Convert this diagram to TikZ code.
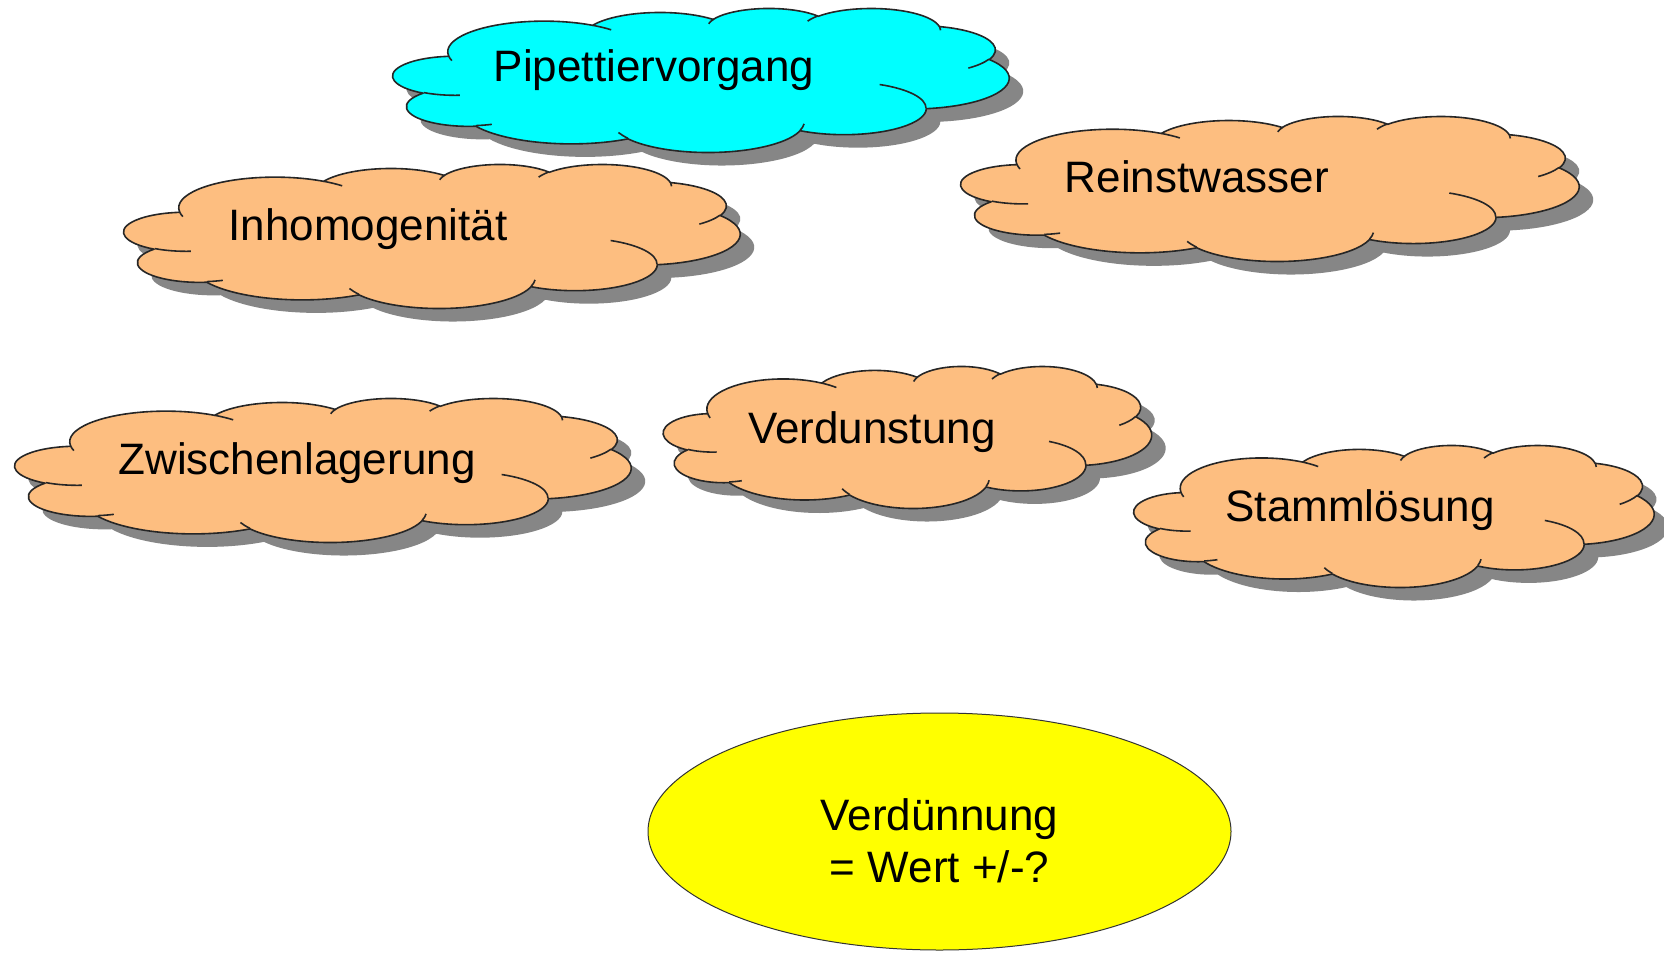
\documentclass[tikz,border=0pt]{standalone}
\usepackage{fontspec}
\setmainfont{Liberation Sans}
\usetikzlibrary{shapes.geometric}

\definecolor{cloudcyan}{RGB}{0,255,255}
\definecolor{cloudpeach}{RGB}{253,190,128}
\definecolor{shadowgrey}{RGB}{134,134,134}
\definecolor{resultyellow}{RGB}{255,255,0}

% ray angle on an ellipse -> parametric angle (k = x radius / y radius)
\pgfmathdeclarefunction{vpar}{2}{%
  \pgfmathparse{#1+atan((#2-1)*sin(#1)*cos(#1)/(cos(#1)*cos(#1)+#2*sin(#1)*sin(#1)))}%
}
% elliptical arc: x radius, y radius, start ray angle, sweep
\newcommand\earc[4]{arc[x radius=#1, y radius=#2,
  start angle={vpar(#3,#1/#2)}, end angle={vpar(#3+#4,#1/#2)}]}

% cloud outline in a 432 x 432 box (y pointing down)
\newcommand\cloudrim{(39,143.7)
  \earc{67.53}{91.90}{-190.4875}{123.7805}
  \earc{53.33}{72.67}{-144.1024}{89.9452}
  \earc{43.65}{59.45}{-145.8079}{99.7230}
  \earc{48.57}{65.95}{-130.9861}{117.2417}
  \earc{53.33}{72.73}{-78.7089}{109.0269}
  \earc{67.75}{92.20}{-46.2673}{130.2690}
  \earc{57.85}{78.67}{0.6250}{114.0333}
  \earc{67.52}{92.15}{22.4516}{115.1726}
  \earc{77.20}{105.43}{66.2426}{75.7110}
  \earc{43.60}{59.18}{-274.9421}{146.7356}
  \earc{43.45}{59.45}{-246.8285}{152.5189}
  -- cycle}
% the small inner curls of the cloud
\newcommand\cloudcurls{%
  (46.93,261.77) \earc{43.45}{59.45}{86.742}{26.4295}
  (69.28,348.99) \earc{43.60}{59.18}{73.6105}{11.4475}
  (164.78,390.90) \earc{67.52}{92.15}{137.6242}{14.0811}
  (288.27,347.51) \earc{67.52}{92.15}{6.4533}{15.9984}
  (341.29,229.54) \earc{57.85}{78.67}{-70.2924}{70.9174}
  (417.98,153.54) \earc{53.33}{72.73}{30.3180}{27.7515}
  (383.24,54.26) \earc{48.57}{65.95}{-13.7443}{14.8589}
  (290.78,39.52) \earc{48.57}{65.95}{-149.1815}{18.1954}
  (221.41,47.20) \earc{43.65}{59.45}{-163.4943}{17.6864}
  (140.00,51.92) \earc{67.53}{91.90}{-66.7070}{12.3194}
  (41.27,157.89) \earc{67.53}{91.90}{157.6544}{11.8582}}

% cloud with drop shadow: left, top, width, height, fill colour
\newcommand\ppcloud[5]{%
  \begin{scope}[shift={(#1+14,#2+13)}, xscale=#3/432, yscale=#4/432]
    \fill[shadowgrey] \cloudrim;
  \end{scope}
  \begin{scope}[shift={(#1,#2)}, xscale=#3/432, yscale=#4/432]
    \filldraw[cloudline, fill=#5] \cloudrim;
    \draw[cloudline] \cloudcurls;
  \end{scope}}

\begin{document}
\begin{tikzpicture}[x=1pt, y=1pt, yscale=-1,
    cloudline/.style={draw=black!85, line width=1.6pt, line join=round},
    label/.style={font=\fontsize{44}{52}\selectfont, inner sep=0pt, anchor=base, text=black}]
  \useasboundingbox[fill=white] (0,0) rectangle (1664,957);

  \ppcloud{393}{8}{616}{144}{cloudcyan}
  \ppcloud{961}{116}{618}{145}{cloudpeach}
  \ppcloud{124}{164}{616}{144}{cloudpeach}
  \ppcloud{15}{398}{616}{144}{cloudpeach}
  \ppcloud{663.5}{366}{488}{142}{cloudpeach}
  \ppcloud{1134}{445}{520}{142}{cloudpeach}

  \node[label] (pip) at (654,82) {Pipettiervorgang};
  \node[label] (rein) at (1197,193) {Reinstwasser};
  \node[label] (inh) at (368,241) {Inhomogenität};
  \node[label] (zwi) at (297,474) {Zwischenlagerung};
  \node[label] (verd) at (872,443) {Verdunstung};
  \node[label] (stamm) at (1360,521) {Stammlösung};

  \node[ellipse, draw=black!80, line width=1pt, fill=resultyellow,
        minimum width=583pt, minimum height=237pt, inner sep=0pt]
        (result) at (939.5,831.5) {};
  \node[label] (res1) at (939.5,830) {Verdünnung};
  \node[label] (res2) at (939.5,882) {= Wert +/-?};
\end{tikzpicture}
\end{document}
